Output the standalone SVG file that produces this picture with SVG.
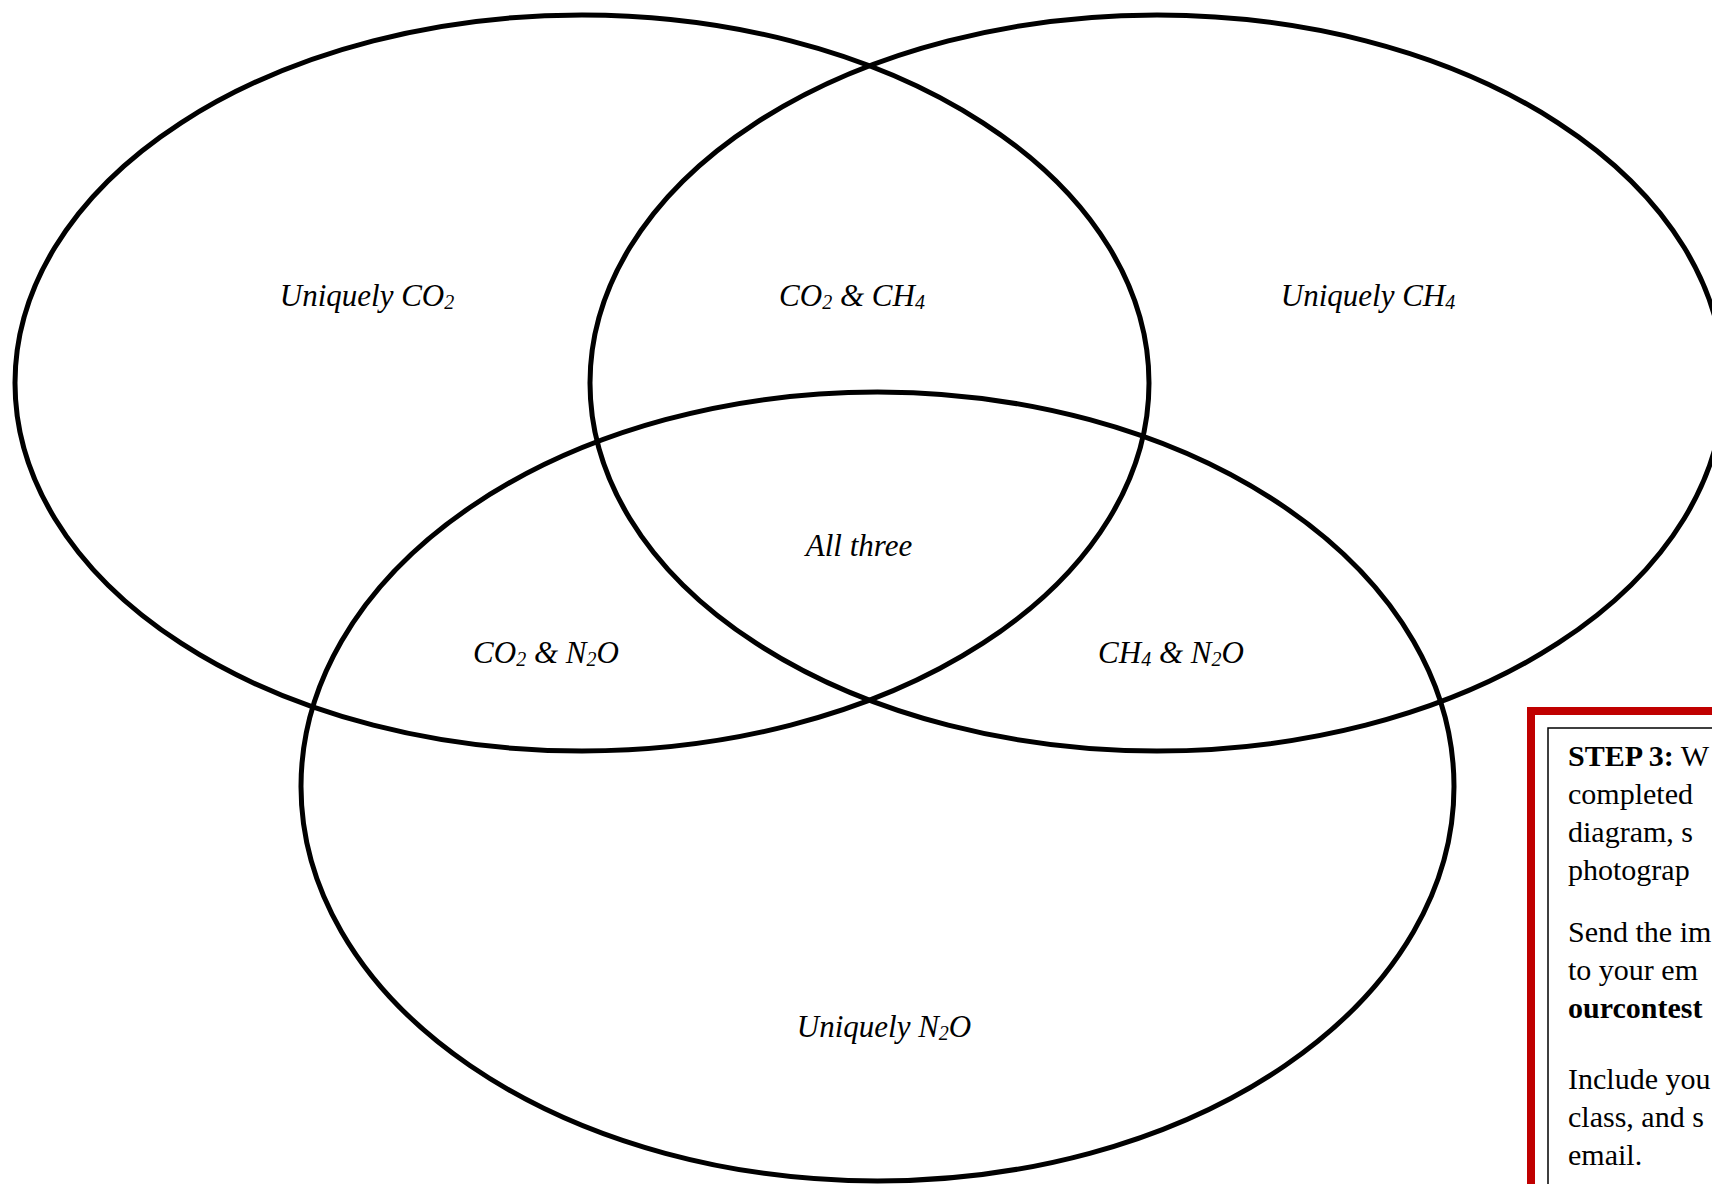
<svg xmlns="http://www.w3.org/2000/svg" width="1712" height="1184" viewBox="0 0 1712 1184">
<style>
.ring{fill:none;stroke:#000;stroke-width:5}
.lbl{font-family:"Liberation Serif","Times New Roman",serif;font-style:italic;font-size:31px;fill:#000;text-anchor:middle}
.sub{font-size:20px}
.box{font-family:"Liberation Serif","Times New Roman",serif;font-size:30px;fill:#000}
.b{font-weight:bold}
</style>
<rect width="1712" height="1184" fill="#fff"/>
<g id="circles">
<g id="co2"><ellipse class="ring" cx="582" cy="383" rx="567" ry="368"/></g>
<g id="ch4"><ellipse class="ring" cx="1157" cy="383" rx="567" ry="368"/></g>
<g id="n2o"><ellipse class="ring" cx="877.5" cy="786.5" rx="576.5" ry="394.5"/></g>
</g>
<g id="labels">
<text class="lbl" x="367" y="306">Uniquely CO<tspan class="sub" dy="3">2</tspan></text>
<text class="lbl" x="852" y="306">CO<tspan class="sub" dy="3">2</tspan><tspan dy="-3"> &amp; CH</tspan><tspan class="sub" dy="3">4</tspan></text>
<text class="lbl" x="1368" y="306">Uniquely CH<tspan class="sub" dy="3">4</tspan></text>
<text class="lbl" x="859" y="556">All three</text>
<text class="lbl" x="546" y="663">CO<tspan class="sub" dy="3">2</tspan><tspan dy="-3"> &amp; N</tspan><tspan class="sub" dy="3">2</tspan><tspan dy="-3">O</tspan></text>
<text class="lbl" x="1171" y="663">CH<tspan class="sub" dy="3">4</tspan><tspan dy="-3"> &amp; N</tspan><tspan class="sub" dy="3">2</tspan><tspan dy="-3">O</tspan></text>
<text class="lbl" x="884" y="1037">Uniquely N<tspan class="sub" dy="3">2</tspan><tspan dy="-3">O</tspan></text>
</g>
<g id="step3">
<rect x="1531" y="711" width="200" height="500" fill="#fff" stroke="#C00000" stroke-width="8"/>
<rect x="1548" y="728" width="200" height="500" fill="#fff" stroke="#000" stroke-width="1.5"/>
<text class="box" x="1568" y="766"><tspan class="b">STEP 3:</tspan> W</text>
<text class="box" x="1568" y="804">completed</text>
<text class="box" x="1568" y="842">diagram, s</text>
<text class="box" x="1568" y="880">photograp</text>
<text class="box" x="1568" y="942">Send the im</text>
<text class="box" x="1568" y="980">to your em</text>
<text class="box b" x="1568" y="1018">ourcontest</text>
<text class="box" x="1568" y="1089">Include you</text>
<text class="box" x="1568" y="1127">class, and s</text>
<text class="box" x="1568" y="1165">email.</text>
</g>
</svg>
